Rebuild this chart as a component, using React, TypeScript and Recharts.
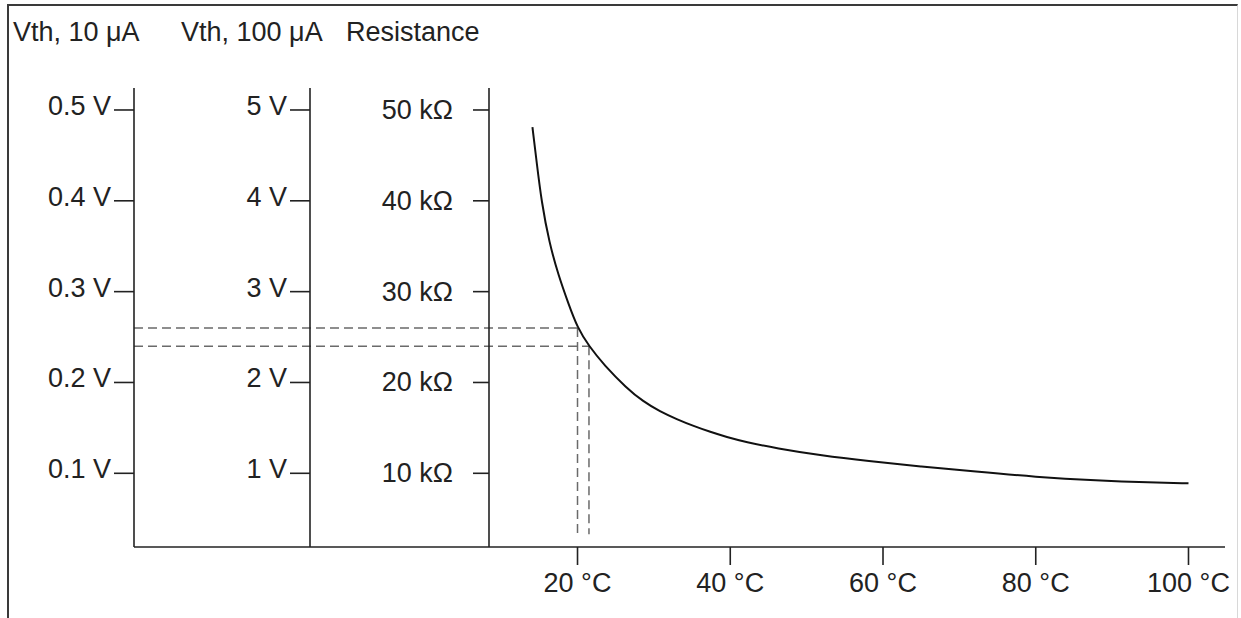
import React from "react";
import { ComposedChart, Line, XAxis, YAxis, ReferenceLine } from "recharts";

// curve: temperature (°C) -> resistance (kΩ)
const temps = [14.1, 14.6, 15.3, 16.3, 17.5, 18.8, 20, 21.5, 23.5, 26.4, 28.6, 30.8, 33, 35.2, 37.4, 39.5, 42, 46, 52, 58, 65, 72, 80, 88, 95, 100];
const resistance = [48.1, 44.6, 39.8, 35.4, 31.8, 28.7, 26.0, 24.0, 21.9, 19.4, 17.9, 16.8, 15.95, 15.2, 14.55, 14.0, 13.45, 12.75, 11.95, 11.35, 10.75, 10.2, 9.6, 9.2, 8.98, 8.9];

const vth10Ticks = [0.1, 0.2, 0.3, 0.4, 0.5];
const vth100Ticks = [1, 2, 3, 4, 5];
const resTicks = [10, 20, 30, 40, 50];
const tempTicks = [20, 40, 60, 80, 100];

// the two read-off points marked with dashed lines
const markTemps = [20, 21.5];
const markRes = [26, 24];
const markBottom = 3.3;

const resDomain = [1.886, 52.42];
const v10Domain = [0.01886, 0.5242];
const v100Domain = [0.1886, 5.242];
const tempDomain = [8.41, 104.78];

const W = 1241;
const H = 618;
const margin = { top: 88, right: 16, bottom: 0, left: 10 };
const wV10 = 124;
const wV100 = 176;
const wRes = 179;

// temperature value under the leftmost axis (baseline and dashed lines run out to it)
const plotW = W - margin.left - margin.right - wV10 - wV100 - wRes;
const pxPerDeg = plotW / (tempDomain[1] - tempDomain[0]);
const tLeft = tempDomain[0] - (wV100 + wRes) / pxPerDeg;

const data = temps.map((t, i) => ({ t, r: resistance[i] }));

const FONT = '"Liberation Sans", Arial, sans-serif';
const INK = "#222";
const FS = 27;

const yTick = (fmt: (v: number) => string, dy: number) => (p: any) => (
  <text x={p.x} y={p.y} dy={dy} textAnchor="end" fill={INK} fontSize={FS} fontFamily={FONT}>
    {fmt(p.payload.value)}
  </text>
);

const xTick = (p: any) => (
  <text x={p.x} y={p.y} dy={19} textAnchor="middle" fill={INK} fontSize={FS} fontFamily={FONT}>
    {`${p.payload.value} °C`}
  </text>
);

const header = (text: string, dx: number) => (p: any) => (
  <text x={p.viewBox.x + dx} y={41} fill={INK} fontSize={FS} fontFamily={FONT}>
    {text}
  </text>
);

export default function App() {
  return (
    <div style={{ position: "absolute", left: 0, top: 0, width: W, height: H, background: "#fff", overflow: "hidden", fontFamily: FONT }}>
      <div
        style={{
          position: "absolute",
          left: 7,
          top: 4,
          width: 1228,
          height: 640,
          borderTop: "2px solid #3a3a3a",
          borderLeft: "2px solid #3a3a3a",
          borderRight: "1px solid #d8d8d8",
        }}
      />
      <div style={{ position: "absolute", left: 0, top: 0 }}>
        <ComposedChart width={W} height={H} data={data} margin={margin}>
          <XAxis
            xAxisId="t"
            dataKey="t"
            type="number"
            domain={tempDomain}
            allowDataOverflow
            ticks={tempTicks}
            interval={0}
            height={71}
            tickSize={18}
            tickMargin={8}
            tick={xTick}
            axisLine={{ stroke: INK, strokeWidth: 1.6 }}
            tickLine={{ stroke: INK, strokeWidth: 1.6 }}
          />
          {/* left axes are stacked: a (innermost) .. c (outermost) */}
          <YAxis
            yAxisId="a_res"
            type="number"
            domain={resDomain}
            allowDataOverflow
            ticks={resTicks}
            interval={0}
            width={wRes}
            tickSize={16}
            tickMargin={20}
            tick={yTick((v) => `${v} kΩ`, 9)}
            axisLine={{ stroke: INK, strokeWidth: 1.6 }}
            tickLine={{ stroke: INK, strokeWidth: 1.6 }}
            label={header("Resistance", 36)}
          />
          <YAxis
            yAxisId="b_v100"
            type="number"
            domain={v100Domain}
            allowDataOverflow
            ticks={vth100Ticks}
            interval={0}
            width={wV100}
            tickSize={20}
            tickMargin={3}
            tick={yTick((v) => `${v} V`, 5)}
            axisLine={{ stroke: INK, strokeWidth: 1.6 }}
            tickLine={{ stroke: INK, strokeWidth: 1.6 }}
            label={header("Vth, 100 μA", 47)}
          />
          <YAxis
            yAxisId="c_v10"
            type="number"
            domain={v10Domain}
            allowDataOverflow
            ticks={vth10Ticks}
            interval={0}
            width={wV10}
            tickSize={20}
            tickMargin={3}
            tick={yTick((v) => `${v} V`, 5)}
            axisLine={{ stroke: INK, strokeWidth: 1.6 }}
            tickLine={{ stroke: INK, strokeWidth: 1.6 }}
            label={header("Vth, 10 μA", 3)}
          />

          {/* baseline continues under the two voltage axes */}
          <ReferenceLine
            xAxisId="t"
            yAxisId="a_res"
            ifOverflow="visible"
            segment={[{ x: tLeft, y: resDomain[0] }, { x: tempDomain[0], y: resDomain[0] }]}
            stroke={INK}
            strokeWidth={1.6}
          />

          {markTemps.map((t, i) => (
            <ReferenceLine
              key={`h${i}`}
              xAxisId="t"
              yAxisId="a_res"
              ifOverflow="visible"
              segment={[{ x: tLeft, y: markRes[i] }, { x: t, y: markRes[i] }]}
              stroke="#6a6a6a"
              strokeWidth={1.5}
              strokeDasharray="9 5"
            />
          ))}
          {markTemps.map((t, i) => (
            <ReferenceLine
              key={`v${i}`}
              xAxisId="t"
              yAxisId="a_res"
              ifOverflow="visible"
              segment={[{ x: t, y: markRes[i] }, { x: t, y: markBottom }]}
              stroke="#6a6a6a"
              strokeWidth={1.5}
              strokeDasharray="9 5"
            />
          ))}

          <Line
            xAxisId="t"
            yAxisId="a_res"
            type="basis"
            dataKey="r"
            stroke="#111"
            strokeWidth={2}
            dot={false}
            activeDot={false}
            isAnimationActive={false}
          />
        </ComposedChart>
      </div>
    </div>
  );
}
